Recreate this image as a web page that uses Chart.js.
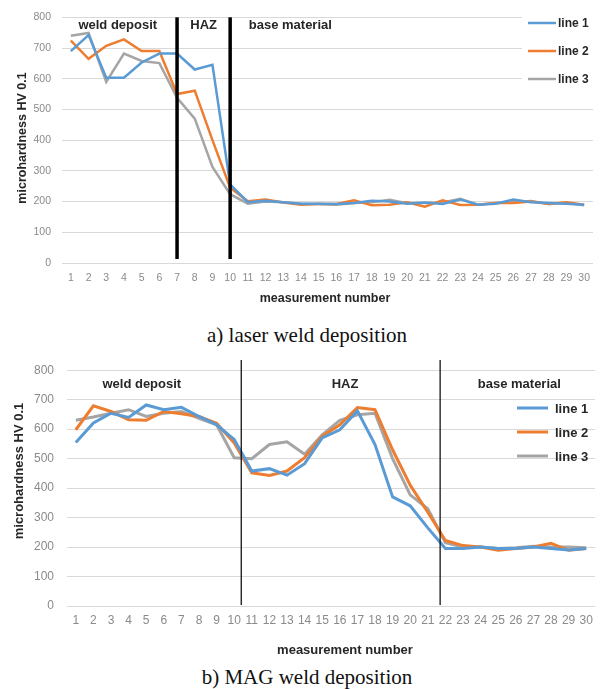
<!DOCTYPE html>
<html>
<head>
<meta charset="utf-8">
<script src="https://cdn.jsdelivr.net/npm/chart.js@4.4.1/dist/chart.umd.min.js"></script>
<style>
  body { margin: 0; background: #fff; width: 600px; height: 689px; position: relative; overflow: hidden; }
  canvas { position: absolute; left: 0; }
  #laserChart { top: 0; }
  #magChart { top: 350px; }
  .caption { position: absolute; left: 0; width: 614px; text-align: center; font-family: "Liberation Serif", "Times New Roman", serif; font-size: 21px; color: #111; line-height: 24px; }
</style>
</head>
<body>
<canvas id="laserChart" width="600" height="310"></canvas>
<div class="caption" style="top:323px">a) laser weld deposition</div>
<canvas id="magChart" width="600" height="312"></canvas>
<div class="caption" style="top:665px">b) MAG weld deposition</div>
<script>
// measurement numbers (x categories)
const measurements = ['1', '2', '3', '4', '5', '6', '7', '8', '9', '10', '11', '12', '13', '14', '15',
  '16', '17', '18', '19', '20', '21', '22', '23', '24', '25', '26', '27', '28', '29', '30'];
const seriesNames = ['line 1', 'line 2', 'line 3'];
const seriesColors = ['#5B9BD5', '#ED7D31', '#A5A5A5'];
const zoneNames = ['weld deposit', 'HAZ', 'base material'];

// a) laser weld deposition
const laserLine1 = [690, 742, 603, 603, 653, 682, 682, 630, 645, 256, 198, 203, 198, 193, 193,
  192, 195, 203, 200, 193, 197, 192, 207, 190, 193, 207, 198, 195, 193, 190];
const laserLine2 = [724, 665, 707, 728, 690, 690, 550, 561, 400, 245, 201, 207, 197, 190, 192,
  192, 204, 188, 190, 198, 183, 204, 189, 190, 195, 195, 200, 192, 198, 190];
const laserLine3 = [740, 749, 590, 682, 658, 651, 538, 470, 313, 224, 193, 200, 198, 193, 192,
  190, 195, 198, 206, 195, 195, 197, 209, 190, 195, 198, 202, 192, 195, 188];
const laserBoundaries = [7, 10];           // measurement numbers
const laserZoneCenters = [3.65, 8.5, 13.4]; // measurement numbers

// b) MAG weld deposition
const magLine1 = [555, 621, 654, 640, 682, 666, 674, 643, 615, 565, 458, 466, 444, 483, 570,
  598, 662, 548, 370, 340, 265, 195, 195, 200, 195, 195, 200, 195, 190, 195];
const magLine2 = [598, 679, 660, 632, 630, 660, 652, 643, 620, 553, 452, 443, 458, 503, 576,
  615, 673, 666, 530, 410, 318, 222, 205, 200, 189, 195, 200, 213, 189, 195];
const magLine3 = [630, 641, 654, 666, 643, 654, 660, 637, 615, 503, 500, 548, 557, 515, 581,
  630, 649, 654, 500, 377, 330, 215, 200, 200, 195, 198, 203, 200, 200, 198];
const magBoundaries = [10.4, 21.7];
const magZoneCenters = [4.75, 16.3, 26.2];

const yMin = 0, yMax = 800, yStep = 100;

// zone lines, zone labels, legend and axis titles
const decorPlugin = {
  id: 'decor',
  beforeDatasetsDraw(chart, args, o) {
    if (!o.mask) return;
    const ctx = chart.ctx;
    ctx.save();
    ctx.fillStyle = '#fff';
    ctx.fillRect(o.mask[0], o.mask[1], o.mask[2], o.mask[3]);
    ctx.restore();
  },
  afterDatasetsDraw(chart, args, o) {
    const { ctx } = chart;
    const x = chart.scales.x, y = chart.scales.y;
    ctx.save();

    // zone boundaries
    ctx.strokeStyle = '#000';
    ctx.lineWidth = o.boundaryWidth;
    o.boundaries.forEach(b => {
      const px = x.getPixelForValue(b - 1);
      ctx.beginPath();
      ctx.moveTo(px, y.getPixelForValue(o.boundaryTop));
      ctx.lineTo(px, y.getPixelForValue(o.boundaryBottom));
      ctx.stroke();
    });

    // zone labels
    ctx.fillStyle = '#262626';
    ctx.font = 'bold ' + o.zoneFont + 'px "Liberation Sans", Arial, sans-serif';
    ctx.textAlign = 'center';
    ctx.textBaseline = 'middle';
    zoneNames.forEach((name, i) => {
      ctx.fillText(name, x.getPixelForValue(o.zoneCenters[i] - 1), y.getPixelForValue(o.zoneY));
    });

    // legend
    const lg = o.legend;
    ctx.textAlign = 'left';
    ctx.font = 'bold ' + lg.font + 'px "Liberation Sans", Arial, sans-serif';
    chart.data.datasets.forEach((ds, i) => {
      const ly = lg.y + i * lg.step;
      ctx.strokeStyle = ds.borderColor;
      ctx.lineWidth = ds.borderWidth;
      ctx.beginPath();
      ctx.moveTo(lg.x0, ly);
      ctx.lineTo(lg.x1, ly);
      ctx.stroke();
      ctx.fillStyle = '#262626';
      ctx.fillText(ds.label, lg.tx, ly + 1);
    });

    // axis titles
    ctx.font = 'bold ' + o.titleFont + 'px "Liberation Sans", Arial, sans-serif';
    ctx.textAlign = 'center';
    ctx.fillText('measurement number', o.xTitle[0], o.xTitle[1]);
    ctx.translate(o.yTitle[0], o.yTitle[1]);
    ctx.rotate(-Math.PI / 2);
    ctx.fillText('microhardness HV 0.1', 0, 0);
    ctx.restore();
  }
};

function makeChart(canvasId, lines, width, opts) {
  const datasets = lines.map((values, i) => ({
    label: seriesNames[i],
    data: values,
    borderColor: seriesColors[i],
    backgroundColor: seriesColors[i],
    borderWidth: width,
    pointRadius: 0,
    tension: 0,
    fill: false
  }));

  return new Chart(document.getElementById(canvasId), {
    type: 'line',
    data: { labels: measurements, datasets: datasets },
    plugins: [decorPlugin],
    options: {
      responsive: false,
      animation: false,
      events: [],
      layout: { padding: opts.padding },
      plugins: {
        legend: { display: false },
        tooltip: { enabled: false },
        decor: opts.decor
      },
      scales: {
        x: {
          offset: true,
          grid: { display: false, drawTicks: false },
          border: { display: false },
          ticks: {
            autoSkip: false, maxRotation: 0, padding: opts.xTickPad,
            color: '#8a8a8a',
            font: { family: '"Liberation Sans", Arial, sans-serif', size: opts.tickFont }
          },
          afterFit: s => { s.height = opts.xHeight; }
        },
        y: {
          min: yMin, max: yMax,
          grid: { color: '#D9D9D9', lineWidth: 1, drawTicks: false },
          border: { display: false },
          ticks: {
            stepSize: yStep, padding: opts.yTickPad,
            color: '#8a8a8a',
            font: { family: '"Liberation Sans", Arial, sans-serif', size: opts.tickFont }
          },
          afterFit: s => { s.width = opts.yWidth; }
        }
      }
    }
  });
}

makeChart('laserChart', [laserLine1, laserLine2, laserLine3], 2.5, {
  padding: { left: 0, right: 7, top: 8, bottom: 0 },
  xHeight: 47, yWidth: 62, xTickPad: 9, yTickPad: 11, tickFont: 10.5,
  decor: {
    mask: [522, 0, 78, 90],
    boundaries: laserBoundaries, boundaryWidth: 3.5, boundaryTop: 800, boundaryBottom: 13,
    zoneCenters: laserZoneCenters, zoneY: 775, zoneFont: 13,
    legend: { x0: 528, x1: 556, tx: 558, y: 23, step: 28, font: 12 },
    titleFont: 12.5, xTitle: [325, 299], yTitle: [23, 138]
  }
});

makeChart('magChart', [magLine1, magLine2, magLine3], 3, {
  padding: { left: 0, right: 5, top: 18, bottom: 0 },
  xHeight: 56, yWidth: 67, xTickPad: 7, yTickPad: 13, tickFont: 12,
  decor: {
    mask: null,
    boundaries: magBoundaries, boundaryWidth: 1.2, boundaryTop: 835, boundaryBottom: 3,
    zoneCenters: magZoneCenters, zoneY: 751, zoneFont: 13,
    legend: { x0: 517, x1: 548, tx: 555, y: 58, step: 24, font: 13 },
    titleFont: 13, xTitle: [345, 300], yTitle: [19, 121]
  }
});
</script>
</body>
</html>
